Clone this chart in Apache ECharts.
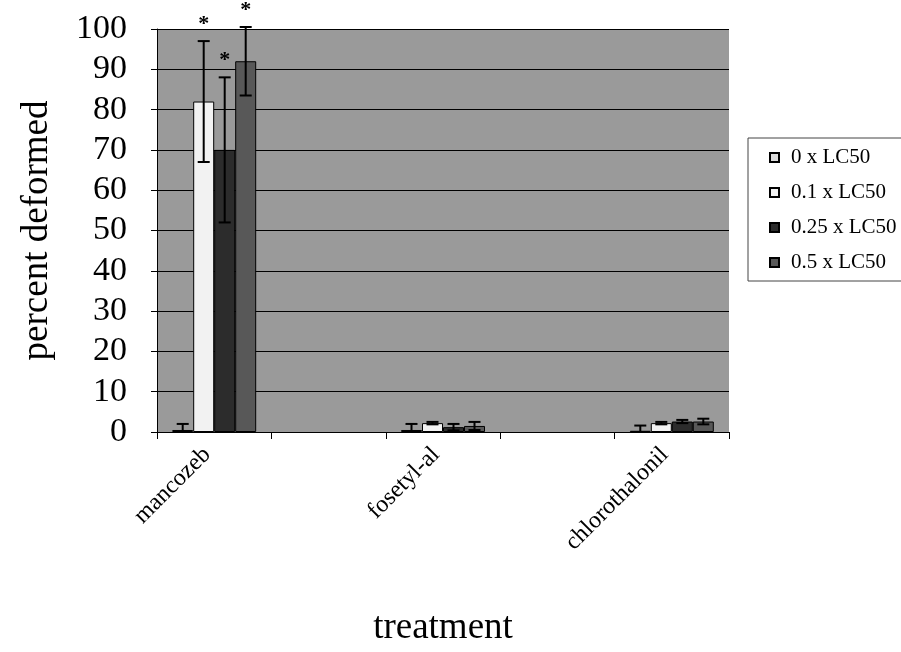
<!DOCTYPE html>
<html>
<head>
<meta charset="utf-8">
<script src="https://cdn.jsdelivr.net/npm/echarts@6/dist/echarts.min.js"></script>
<style>
  html, body { margin: 0; padding: 0; background: #fff; }
  #main { width: 901px; height: 652px; }
</style>
</head>
<body>
<div id="main"></div>
<script>
// categories (empty slots are the blank tick gaps of the original)
var categories = ['mancozeb', '', 'fosetyl-al', '', 'chlorothalonil'];
var seriesNames = ['0 x LC50', '0.1 x LC50', '0.25 x LC50', '0.5 x LC50'];

// percent deformed, per dose
var dose0   = [0.5, null, 0.5, null, 0.3];
var dose01  = [82, null, 2.2, null, 2.2];
var dose025 = [70, null, 1.2, null, 2.6];
var dose05  = [92, null, 1.5, null, 2.6];

// error (+/-)
var err0   = [1.5, null, 1.5, null, 1.3];
var err01  = [15, null, 0.3, null, 0.3];
var err025 = [18, null, 0.8, null, 0.4];
var err05  = [8.5, null, 1.0, null, 0.7];

// significance asterisk
var sig0   = [0, 0, 0, 0, 0];
var sig01  = [1, 0, 0, 0, 0];
var sig025 = [1, 0, 0, 0, 0];
var sig05  = [1, 0, 0, 0, 0];

var values = [dose0, dose01, dose025, dose05];
var errors = [err0, err01, err025, err05];
var sigs = [sig0, sig01, sig025, sig05];
var colors = ['#dcdcdc', '#f2f2f2', '#2c2c2c', '#585858'];

var BAR_W = 21;
var FONT = 'Liberation Serif';

var myChart = echarts.init(document.getElementById('main'));

var errData = [];
for (var s = 0; s < 4; s++) {
    for (var c = 0; c < categories.length; c++) {
        if (values[s][c] == null) continue;
        errData.push([c, values[s][c] - errors[s][c], values[s][c] + errors[s][c], s, sigs[s][c]]);
    }
}

var barSeries = seriesNames.map(function (name, i) {
    return {
        name: name,
        type: 'bar',
        data: values[i],
        barWidth: BAR_W,
        barGap: '0%',
        itemStyle: {
            color: colors[i],
            borderColor: '#000',
            borderWidth: 1
        },
        z: 2
    };
});

barSeries.push({
    name: 'err',
    type: 'custom',
    data: errData,
    z: 5,
    renderItem: function (params, api) {
        var s = api.value(3);
        var lo = api.coord([api.value(0), Math.max(0, api.value(1))]);
        var hi = api.coord([api.value(0), api.value(2)]);
        var x = lo[0] + (s - 1.5) * BAR_W;
        var half = 6;
        var st = { stroke: '#000', lineWidth: 2 };
        var children = [
            { type: 'line', shape: { x1: x, y1: lo[1], x2: x, y2: hi[1] }, style: st },
            { type: 'line', shape: { x1: x - half, y1: hi[1], x2: x + half, y2: hi[1] }, style: st }
        ];
        if (api.value(1) > 0) {
            children.push({ type: 'line', shape: { x1: x - half, y1: lo[1], x2: x + half, y2: lo[1] }, style: st });
        }
        if (api.value(4)) {
            children.push({
                type: 'text',
                style: {
                    x: x, y: hi[1] - 6, text: '*',
                    fill: '#000', font: 'bold 22px ' + FONT,
                    textAlign: 'center', textVerticalAlign: 'bottom'
                }
            });
        }
        return { type: 'group', children: children };
    }
});

var option = {
    backgroundColor: '#fff',
    animation: false,
    grid: {
        left: 157,
        right: 172,
        top: 29,
        bottom: 218,
        show: true,
        backgroundColor: '#9a9a9a',
        borderWidth: 0
    },
    legend: {
        data: seriesNames,
        orient: 'vertical',
        left: 748,
        top: 138,
        padding: [9, 30, 8, 21],
        itemGap: 14,
        itemWidth: 9,
        itemHeight: 9,
        icon: 'rect',
        borderColor: '#444',
        borderWidth: 1,
        textStyle: { fontFamily: FONT, fontSize: 21, color: '#000', padding: [0, 0, 0, 7] }
    },
    xAxis: {
        type: 'category',
        data: categories,
        name: 'treatment',
        nameLocation: 'middle',
        nameGap: 178,
        nameTextStyle: { fontFamily: FONT, fontSize: 37, color: '#000' },
        axisLine: { show: true, lineStyle: { color: '#000', width: 1 } },
        axisTick: { show: true, length: 7, lineStyle: { color: '#000' } },
        axisLabel: {
            interval: 0,
            rotate: 45,
            margin: 12,
            padding: [0, 10, 12, 0],
            fontFamily: FONT,
            fontSize: 24,
            color: '#000'
        },
        splitLine: { show: false }
    },
    yAxis: {
        type: 'value',
        min: 0,
        max: 100,
        interval: 10,
        name: 'percent deformed',
        nameLocation: 'middle',
        nameGap: 101,
        nameTextStyle: { fontFamily: FONT, fontSize: 37, color: '#000' },
        axisLine: { show: true, lineStyle: { color: '#000', width: 1 } },
        axisTick: { show: true, length: 6, lineStyle: { color: '#000' } },
        axisLabel: {
            margin: 30,
            fontFamily: FONT,
            fontSize: 34,
            color: '#000'
        },
        splitLine: { show: true, lineStyle: { color: '#000', width: 1 } }
    },
    series: barSeries
};

myChart.setOption(option);
window.addEventListener('resize', function () {
    myChart.resize();
});
</script>
</body>
</html>
